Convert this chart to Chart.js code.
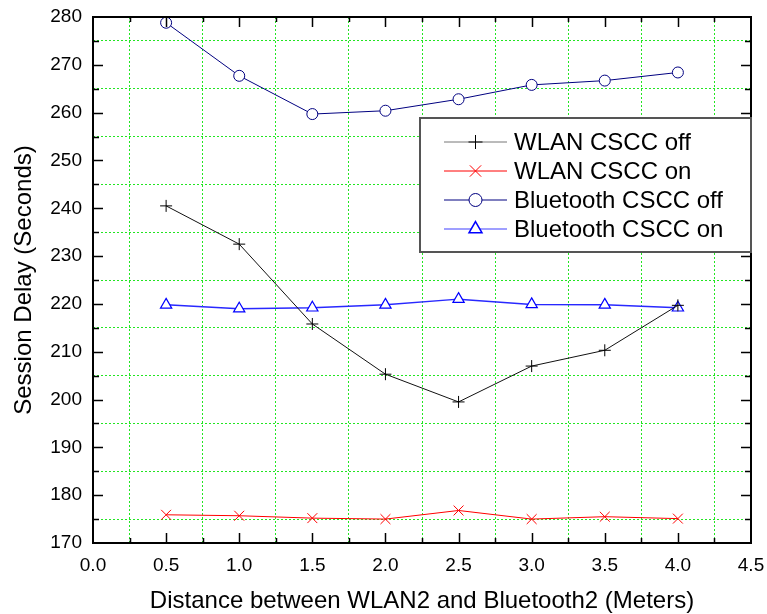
<!DOCTYPE html>
<html>
<head>
<meta charset="utf-8">
<script src="https://cdn.jsdelivr.net/npm/chart.js@4.4.0/dist/chart.umd.min.js"></script>
<style>
  html, body { margin: 0; padding: 0; background: #fff; }
  #wrap { width: 767px; height: 614px; }
</style>
</head>
<body>
<div id="wrap"><canvas id="chart"></canvas></div>
<script>
// Data
const distances = [0.5, 1.0, 1.5, 2.0, 2.5, 3.0, 3.5, 4.0];
const wlanOff = [240.5, 232.5, 215.8, 205.3, 199.5, 207.0, 210.3, 219.7];
const wlanOn  = [175.9, 175.7, 175.2, 175.0, 176.8, 175.0, 175.5, 175.1];
const btOff   = [278.8, 267.7, 259.7, 260.4, 262.8, 265.8, 266.7, 268.4];
const btOn    = [219.8, 219.0, 219.2, 219.8, 221.0, 219.9, 219.8, 219.2];
const seriesNames = ['WLAN CSCC off', 'WLAN CSCC on', 'Bluetooth CSCC off', 'Bluetooth CSCC on'];

// Axis ticks (labelled every 0.5 / 10, grid on the in-between ones)
const xTickValues = [0, 0.25, 0.5, 0.75, 1.0, 1.25, 1.5, 1.75, 2.0, 2.25, 2.5, 2.75, 3.0, 3.25, 3.5, 3.75, 4.0, 4.25, 4.5];
const yTickValues = [170, 175, 180, 185, 190, 195, 200, 205, 210, 215, 220, 225, 230, 235, 240, 245, 250, 255, 260, 265, 270, 275, 280];

const FONT = "'Liberation Sans', Arial, sans-serif";
const GRID_GREEN = '#22e622';

const isMajorX = v => Math.abs(v * 2 - Math.round(v * 2)) < 1e-6;
const isMajorY = v => v % 10 === 0;

const pts = arr => distances.map((d, i) => ({ x: d, y: arr[i] }));

// frame + inward tick marks on all 4 sides
const axisFrame = {
  id: 'axisFrame',
  afterDatasetsDraw(chart) {
    const { ctx, chartArea: a, scales: { x, y } } = chart;
    ctx.save();
    ctx.strokeStyle = '#000';
    ctx.lineWidth = 1.5;
    ctx.beginPath();
    x.ticks.forEach(t => {
      if (t.value <= x.min || t.value >= x.max) return;
      const px = Math.round(x.getPixelForValue(t.value)) + 0.5;
      const len = isMajorX(t.value) ? 10 : 5;
      ctx.moveTo(px, a.bottom); ctx.lineTo(px, a.bottom - len);
      ctx.moveTo(px, a.top); ctx.lineTo(px, a.top + len);
    });
    y.ticks.forEach(t => {
      if (t.value <= y.min || t.value >= y.max) return;
      const py = Math.round(y.getPixelForValue(t.value)) + 0.5;
      const len = isMajorY(t.value) ? 10 : 6;
      ctx.moveTo(a.left, py); ctx.lineTo(a.left + len, py);
      ctx.moveTo(a.right, py); ctx.lineTo(a.right - len, py);
    });
    ctx.stroke();
    ctx.lineWidth = 2;
    ctx.strokeRect(a.left, a.top, a.right - a.left, a.bottom - a.top);
    ctx.restore();
  }
};

// boxed legend inside the plot, top right
const boxLegend = {
  id: 'boxLegend',
  afterDraw(chart) {
    const { ctx, chartArea: a } = chart;
    const bw = 331, bh = 134;
    const bx = a.right - bw, by = a.top + 101;
    ctx.save();
    ctx.fillStyle = '#fff';
    ctx.fillRect(bx, by, bw, bh);
    ctx.strokeStyle = '#555';
    ctx.lineWidth = 2;
    ctx.strokeRect(bx, by, bw, bh);
    ctx.font = '24px ' + FONT;
    ctx.textBaseline = 'middle';
    chart.data.datasets.forEach((ds, i) => {
      const ry = by + 24 + i * 29;
      const x0 = bx + 24, x1 = bx + 87;
      ctx.strokeStyle = ds.legendLine || ds.borderColor;
      ctx.lineWidth = ds.borderWidth;
      ctx.beginPath();
      ctx.moveTo(x0, ry); ctx.lineTo(x1, ry);
      ctx.stroke();
      ctx.strokeStyle = ds.pointBorderColor;
      ctx.fillStyle = ds.pointBackgroundColor;
      Chart.helpers.drawPoint(ctx, {
        pointStyle: ds.pointStyle, radius: ds.pointRadius + 1,
        borderWidth: 1, rotation: 0
      }, (x0 + x1) / 2, ry);
      ctx.fillStyle = '#000';
      ctx.fillText(seriesNames[i], bx + 94, ry + 1);
    });
    ctx.restore();
  }
};

const ctxChart = document.getElementById('chart').getContext('2d');
const chart = new Chart(ctxChart, {
  type: 'line',
  data: {
    datasets: [
      {
        label: seriesNames[0], data: pts(wlanOff),
        borderColor: '#111', borderWidth: 1, legendLine: '#777',
        pointStyle: 'cross', pointRadius: 6,
        pointBorderColor: '#000', pointBackgroundColor: '#000', pointBorderWidth: 1
      },
      {
        label: seriesNames[1], data: pts(wlanOn),
        borderColor: '#ff0000', borderWidth: 1,
        pointStyle: 'crossRot', pointRadius: 7,
        pointBorderColor: '#ff0000', pointBackgroundColor: '#ff0000', pointBorderWidth: 1
      },
      {
        label: seriesNames[2], data: pts(btOff),
        borderColor: '#000080', borderWidth: 1,
        pointStyle: 'circle', pointRadius: 5.5,
        pointBorderColor: '#000080', pointBackgroundColor: '#fff', pointBorderWidth: 1
      },
      {
        label: seriesNames[3], data: pts(btOn),
        borderColor: '#2828ff', borderWidth: 1.5, legendLine: '#7f7fff',
        pointStyle: 'triangle', pointRadius: 6.5,
        pointBorderColor: '#0000ff', pointBackgroundColor: '#fff', pointBorderWidth: 1.2
      }
    ]
  },
  options: {
    responsive: true,
    maintainAspectRatio: false,
    animation: false,
    layout: { padding: { top: 17, right: 16, left: 0, bottom: 0 } },
    elements: { line: { tension: 0 } },
    plugins: { legend: { display: false }, tooltip: { enabled: false } },
    scales: {
      x: {
        type: 'linear', min: 0, max: 4.5,
        afterBuildTicks: s => { s.ticks = xTickValues.map(v => ({ value: v })); },
        afterFit: s => { s.height = 71; s.paddingLeft = 0; s.paddingRight = 0; },
        ticks: {
          autoSkip: false, maxRotation: 0, padding: 11, color: '#000',
          font: { family: FONT, size: 19 },
          callback: v => isMajorX(v) ? v.toFixed(1) : ''
        },
        grid: {
          drawTicks: false, lineWidth: 1,
          color: c => (c.tick && !isMajorX(c.tick.value)) ? GRID_GREEN : 'rgba(0,0,0,0)'
        },
        border: { display: false, dash: [2, 2] },
        title: {
          display: true, text: 'Distance between WLAN2 and Bluetooth2 (Meters)',
          color: '#000', font: { family: FONT, size: 24, lineHeight: 1 },
          padding: { top: 0, bottom: 1 }
        }
      },
      y: {
        type: 'linear', min: 170, max: 280,
        afterBuildTicks: s => { s.ticks = yTickValues.map(v => ({ value: v })); },
        afterFit: s => { s.width = 93; s.paddingTop = 0; s.paddingBottom = 0; },
        ticks: {
          autoSkip: false, padding: 11, color: '#000',
          font: { family: FONT, size: 19 },
          callback: v => isMajorY(v) ? String(v) : ''
        },
        grid: {
          drawTicks: false, lineWidth: 1,
          color: c => (c.tick && !isMajorY(c.tick.value)) ? GRID_GREEN : 'rgba(0,0,0,0)'
        },
        border: { display: false, dash: [2, 2] },
        title: {
          display: true, text: 'Session Delay (Seconds)',
          color: '#000', font: { family: FONT, size: 24, lineHeight: 1 },
          padding: { top: 12, bottom: 0 }
        }
      }
    }
  },
  plugins: [axisFrame, boxLegend]
});
</script>
</body>
</html>
